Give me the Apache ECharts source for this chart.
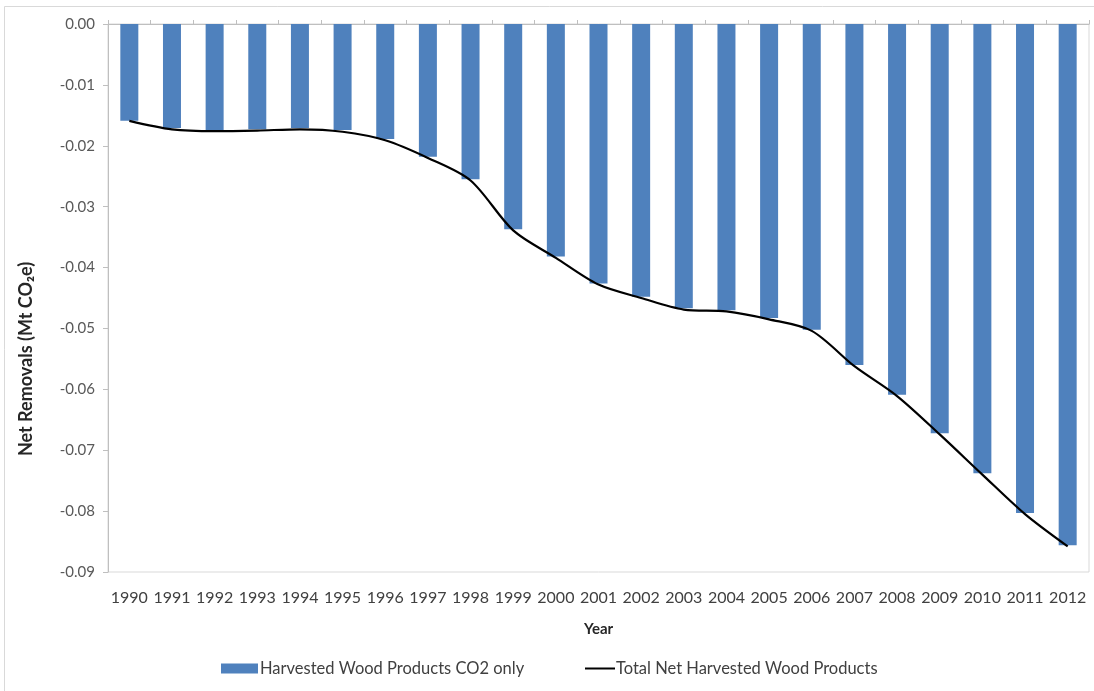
<!DOCTYPE html>
<html>
<head>
<meta charset="utf-8">
<script src="https://cdn.jsdelivr.net/npm/echarts@6/dist/echarts.min.js"></script>
<style>html,body{margin:0;padding:0;background:#fff;}#c{width:1094px;height:691px;}</style>
</head>
<body>
<div id="c"></div>
<script>
var years = ['1990','1991','1992','1993','1994','1995','1996','1997','1998','1999','2000','2001','2002','2003','2004','2005','2006','2007','2008','2009','2010','2011','2012'];
var hwpCO2Only = [-0.0159,-0.0171,-0.0174,-0.0173,-0.0171,-0.0174,-0.0189,-0.0218,-0.0255,-0.0337,-0.0382,-0.0426,-0.0448,-0.0467,-0.0470,-0.0483,-0.0502,-0.0560,-0.0609,-0.0672,-0.0738,-0.0803,-0.0856];
var totalNetHWP = [-0.0159,-0.0173,-0.0176,-0.0175,-0.0173,-0.0177,-0.0191,-0.0220,-0.0257,-0.0339,-0.0384,-0.0428,-0.0450,-0.0469,-0.0472,-0.0485,-0.0504,-0.0562,-0.0611,-0.0674,-0.0740,-0.0805,-0.0858];
var yTicks = {min: -0.09, max: 0, interval: 0.01};
var yTitle = 'Net Removals (Mt CO\u2082e)';

var FONT = 'Lato';
var chart = echarts.init(document.getElementById('c'), null, {renderer: 'canvas'});
chart.setOption({
  animation: false,
  backgroundColor: '#ffffff',
  textStyle: {fontFamily: FONT},
  graphic: [{
    type: 'rect', silent: true, z: -1,
    shape: {x: 4.5, y: 6.5, width: 1100, height: 690},
    style: {fill: 'none', stroke: '#d9d9d9', lineWidth: 1}
  }, {
    type: 'text', silent: true, x: 26, y: 359, rotation: Math.PI / 2,
    style: {text: yTitle, fontFamily: FONT, fontSize: 18, fontWeight: 'bold', fill: '#262626',
      align: 'center', verticalAlign: 'middle'}
  }],
  grid: {left: 108, right: 5, top: 24, bottom: 119, show: true, borderColor: '#d9d9d9', borderWidth: 1, backgroundColor: 'transparent'},
  legend: [{
    data: [{name: 'Harvested Wood Products CO2 only', icon: 'rect'}],
    left: 216, top: 655, itemWidth: 37, itemHeight: 10, itemGap: 0,
    textStyle: {fontFamily: FONT, fontSize: 16.5, color: '#404040', padding: [0,0,0,-3]}
  }, {
    data: [{name: 'Total Net Harvested Wood Products', icon: 'path://M0,0H30V2H0Z'}],
    left: 580, top: 655, itemWidth: 30, itemHeight: 2, itemGap: 0,
    textStyle: {fontFamily: FONT, fontSize: 16.5, color: '#404040', padding: [0,0,0,-4]}
  }],
  xAxis: [{
    type: 'category', data: years, position: 'bottom',
    boundaryGap: true,
    axisLine: {show: true, lineStyle: {color: '#d9d9d9'}},
    axisTick: {show: false},
    axisLabel: {interval: 0, fontFamily: FONT, fontSize: 16, color: '#404040', margin: 18, hideOverlap: false},
    name: 'Year', nameLocation: 'middle', nameGap: 50,
    nameTextStyle: {fontFamily: FONT, fontSize: 15, fontWeight: 'bold', color: '#262626'}
  }, {
    type: 'category', data: years, position: 'top',
    boundaryGap: true,
    axisLine: {show: true, lineStyle: {color: '#bfbfbf'}},
    axisTick: {show: true, length: 4, lineStyle: {color: '#bfbfbf'}},
    axisLabel: {show: false}
  }],
  yAxis: {
    type: 'value', min: yTicks.min, max: yTicks.max, interval: yTicks.interval,
    axisLine: {show: true, lineStyle: {color: '#bfbfbf'}},
    axisTick: {show: true, length: 5, lineStyle: {color: '#bfbfbf'}},
    splitLine: {show: false},
    axisLabel: {fontFamily: FONT, fontSize: 15, color: '#595959', margin: 13,
      formatter: function (v) { return (Math.abs(v) < 1e-9 ? 0 : v).toFixed(2); }}
  },
  series: [{
    name: 'Harvested Wood Products CO2 only',
    type: 'bar', data: hwpCO2Only, barWidth: 18,
    itemStyle: {color: '#4f81bd'}
  }, {
    name: 'Total Net Harvested Wood Products',
    type: 'line', data: totalNetHWP, smooth: 0.3, symbol: 'none',
    lineStyle: {color: '#000000', width: 2.2},
    itemStyle: {color: '#000000'}
  }]
});
</script>
</body>
</html>
